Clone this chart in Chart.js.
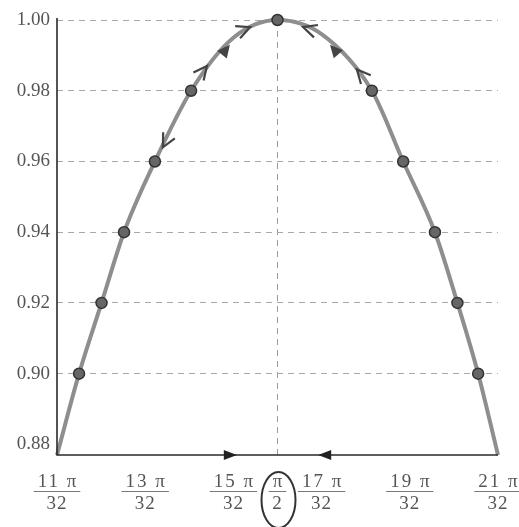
<!DOCTYPE html>
<html>
<head>
<meta charset="utf-8">
<script src="https://cdn.jsdelivr.net/npm/chart.js@4.4.1/dist/chart.umd.min.js"></script>
<style>
  html, body { margin: 0; padding: 0; background: #fff; }
  canvas { display: block; }
</style>
</head>
<body>
<canvas id="myChart" width="519" height="527"></canvas>
<script>
'use strict';
// x values are in units of pi/32
let xTicks = [11, 13, 15, 16, 17, 19, 21];
let xTickTop = ['11 π', '13 π', '15 π', 'π', '17 π', '19 π', '21 π'];
let xTickBottom = ['32', '32', '32', '2', '32', '32', '32'];
let yTicks = [0.88, 0.90, 0.92, 0.94, 0.96, 0.98, 1.00];

// marked points on the curve
let dotX = [11.50, 12.01, 12.52, 13.22, 14.04, 16.0, 18.14, 18.85, 19.57, 20.08, 20.55];
let dotY = [0.90, 0.92, 0.94, 0.96, 0.98, 1.00, 0.98, 0.96, 0.94, 0.92, 0.90];

// grey curve
let curveX = [11, 11.50, 12.01, 12.52, 13.22, 14.04, 15, 16, 17, 18.14, 18.85, 19.57, 20.08, 20.55, 21];
let curveY = [0.877, 0.90, 0.92, 0.94, 0.96, 0.98, 0.995, 1.00, 0.996, 0.98, 0.96, 0.94, 0.92, 0.90, 0.877];

// hand drawn arrow heads on the curve
let arrowX = [13.40, 14.40, 14.92, 15.38, 16.58, 17.19, 17.80];
let arrowY = [0.964, 0.987, 0.993, 0.998, 0.998, 0.993, 0.986];
let arrowDir = [-1, 1, 1, 1, -1, -1, -1];
let arrowFill = [false, false, true, false, false, true, false];

// arrows on the x axis pointing at pi/2
let axisArrowX = [15.08, 16.92];
let axisArrowDir = [1, -1];

let serif = "'Liberation Serif', 'Times New Roman', Times, serif";

// slope of the curve (in pixels) around x
function curveAngle(xs, ys, x, dir) {
    let i = 0;
    while (i < curveX.length - 2 && curveX[i + 1] < x) {
        i++;
    }
    let x0 = xs.getPixelForValue(curveX[i]), y0 = ys.getPixelForValue(curveY[i]);
    let x1 = xs.getPixelForValue(curveX[i + 1]), y1 = ys.getPixelForValue(curveY[i + 1]);
    let a = Math.atan2(y1 - y0, x1 - x0);
    if (dir < 0) a += Math.PI;
    return a;
}

function arrowHead(ctx, x, y, a, len, spread, filled) {
    let lx = x - len * Math.cos(a - spread), ly = y - len * Math.sin(a - spread);
    let rx = x - len * Math.cos(a + spread), ry = y - len * Math.sin(a + spread);
    ctx.beginPath();
    if (filled) {
        ctx.moveTo(x, y);
        ctx.lineTo(lx, ly);
        ctx.lineTo(rx, ry);
        ctx.closePath();
        ctx.fill();
    } else {
        ctx.moveTo(lx, ly);
        ctx.lineTo(x, y);
        ctx.lineTo(rx, ry);
        ctx.stroke();
    }
}

let decor = {
    id: 'decor',
    afterDraw(chart) {
        let ctx = chart.ctx;
        let xs = chart.scales.x;
        let ys = chart.scales.y;
        let area = chart.chartArea;
        ctx.save();

        // axes
        ctx.strokeStyle = '#2a2a2a';
        ctx.lineWidth = 1.6;
        ctx.setLineDash([]);
        ctx.beginPath();
        ctx.moveTo(area.left, area.top - 2);
        ctx.lineTo(area.left, area.bottom);
        ctx.lineTo(area.right, area.bottom);
        ctx.stroke();

        // fraction tick labels
        ctx.fillStyle = '#555';
        ctx.strokeStyle = '#777';
        ctx.lineWidth = 1;
        ctx.textAlign = 'center';
        ctx.textBaseline = 'middle';
        ctx.font = '19px ' + serif;
        for (let i = 0; i < xTicks.length; i++) {
            let px = xs.getPixelForValue(xTicks[i]);
            ctx.letterSpacing = '2px';
            let w = ctx.measureText(xTickTop[i]).width;
            ctx.fillText(xTickTop[i], px + 1, area.bottom + 27);
            ctx.letterSpacing = '1px';
            ctx.fillText(xTickBottom[i], px, area.bottom + 49);
            let half = w / 2 + 3;
            ctx.beginPath();
            ctx.moveTo(px - half, area.bottom + 36.5);
            ctx.lineTo(px + half, area.bottom + 36.5);
            ctx.stroke();
        }
        ctx.letterSpacing = '0px';

        // circle round pi/2
        let cx = xs.getPixelForValue(16);
        ctx.strokeStyle = '#333';
        ctx.lineWidth = 2;
        ctx.beginPath();
        ctx.ellipse(cx + 1, area.bottom + 45, 17, 28, 0, 0, Math.PI * 2);
        ctx.stroke();

        // arrows on the x axis
        ctx.fillStyle = '#222';
        for (let i = 0; i < axisArrowX.length; i++) {
            let px = xs.getPixelForValue(axisArrowX[i]);
            let a = axisArrowDir[i] > 0 ? 0 : Math.PI;
            arrowHead(ctx, px, area.bottom, a, 14, 0.36, true);
        }

        // arrows on the curve
        ctx.strokeStyle = '#444';
        ctx.fillStyle = '#444';
        ctx.lineWidth = 2.2;
        for (let i = 0; i < arrowX.length; i++) {
            let px = xs.getPixelForValue(arrowX[i]);
            let py = ys.getPixelForValue(arrowY[i]);
            let a = curveAngle(xs, ys, arrowX[i], arrowDir[i]);
            arrowHead(ctx, px, py, a, arrowFill[i] ? 14 : 15, 0.45, arrowFill[i]);
        }
        ctx.restore();
    }
};

let dotData = [];
for (let i = 0; i < dotX.length; i++) {
    dotData.push({ x: dotX[i], y: dotY[i] });
}
let curveData = [];
for (let i = 0; i < curveX.length; i++) {
    curveData.push({ x: curveX[i], y: curveY[i] });
}

let myChart = new Chart(document.getElementById('myChart'), {
    type: 'scatter',
    data: {
        datasets: [{
            label: 'points',
            data: dotData,
            pointRadius: 5.5,
            pointBackgroundColor: '#666',
            pointBorderColor: '#333',
            pointBorderWidth: 1.5,
            showLine: false,
            clip: false,
            order: 0
        }, {
            label: 'curve',
            type: 'line',
            data: curveData,
            borderColor: '#8e8e8e',
            borderWidth: 4,
            pointRadius: 0,
            cubicInterpolationMode: 'monotone',
            fill: false,
            clip: false,
            order: 1
        }]
    },
    options: {
        responsive: false,
        animation: false,
        layout: { padding: { top: 20, right: 21, left: 0, bottom: 0 } },
        plugins: {
            legend: { display: false },
            tooltip: { enabled: false }
        },
        scales: {
            x: {
                type: 'linear',
                min: 11,
                max: 21,
                afterBuildTicks: function (s) {
                    s.ticks = xTicks.map(v => ({ value: v }));
                },
                afterFit: function (s) {
                    s.height = 72;
                },
                ticks: { display: false },
                grid: {
                    drawTicks: false,
                    lineWidth: 1,
                    color: c => (c.tick && c.tick.value === 16) ? '#9a9a9a' : 'rgba(0,0,0,0)'
                },
                border: { display: false, dash: [6, 5] }
            },
            y: {
                min: 0.877,
                max: 1.0,
                afterBuildTicks: function (s) {
                    s.ticks = yTicks.map(v => ({ value: v }));
                },
                afterFit: function (s) {
                    s.width = 57;
                },
                ticks: {
                    padding: 7,
                    color: '#555',
                    font: { family: serif, size: 19 },
                    callback: v => v.toFixed(2)
                },
                grid: {
                    drawTicks: false,
                    lineWidth: 1,
                    color: c => (c.tick && c.tick.value > 0.885) ? '#a8a8a8' : 'rgba(0,0,0,0)'
                },
                border: { display: false, dash: [6, 5] }
            }
        }
    },
    plugins: [decor]
});
</script>
</body>
</html>
